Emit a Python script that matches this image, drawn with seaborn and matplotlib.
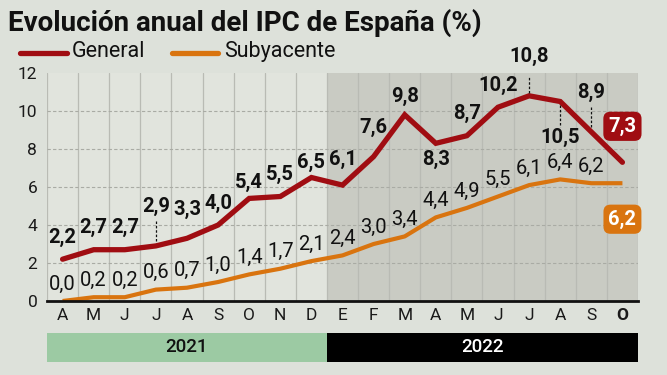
import pandas as pd
import seaborn as sns
import matplotlib.pyplot as plt
from matplotlib.patches import Rectangle

months = ['A', 'M', 'J', 'J', 'A', 'S', 'O', 'N', 'D',
          'E', 'F', 'M', 'A', 'M', 'J', 'J', 'A', 'S', 'O']
general = [2.2, 2.7, 2.7, 2.9, 3.3, 4.0, 5.4, 5.5, 6.5,
           6.1, 7.6, 9.8, 8.3, 8.7, 10.2, 10.8, 10.5, 8.9, 7.3]
subyacente = [0.0, 0.2, 0.2, 0.6, 0.7, 1.0, 1.4, 1.7, 2.1,
              2.4, 3.0, 3.4, 4.4, 4.9, 5.5, 6.1, 6.4, 6.2, 6.2]
years = ['2021', '2022']
year_months = [9, 10]

df = pd.DataFrame({'x': range(len(months)), 'General': general, 'Subyacente': subyacente})

RED = '#a00d12'
ORANGE = '#d9740f'
BG = '#dde1da'

sns.set_style('white')
plt.rcParams['font.family'] = ['Roboto', 'DejaVu Sans']

fig = plt.figure(figsize=(6.67, 3.75), dpi=100, facecolor=BG)
ax = fig.add_axes([0.0705, 0.1973, 0.886, 0.608])
ax.set_facecolor('#e1e4dd')

n = len(months)
# sombreado 2022
ax.axvspan(year_months[0] - 0.5, n - 0.5, color='#c9cbc3', zorder=0, lw=0)
for i in range(n + 1):
    ax.axvline(i - 0.5, color='#b9bbb4', lw=0.9, zorder=1)
for v in [2, 4, 6, 8, 10]:
    ax.axhline(v, color='#a9aba4', lw=0.8, ls=(0, (3, 2)), zorder=1)

sns.lineplot(data=df, x='x', y='General', color=RED, lw=3.8, ax=ax, zorder=4,
             solid_capstyle='round', solid_joinstyle='miter')
sns.lineplot(data=df, x='x', y='Subyacente', color=ORANGE, lw=3.0, ax=ax, zorder=3,
             solid_capstyle='butt')

ax.set_xlim(-0.5, n - 0.5)
ax.set_ylim(0, 12)
ax.set_yticks(range(0, 13, 2))
ax.set_xticks(range(n))
ax.set_xticklabels(months)
ax.get_xticklabels()[-1].set_fontweight('bold')
ax.tick_params(axis='both', length=0, labelsize=12.5, colors='#1a1a1a')
ax.tick_params(axis='x', pad=5)
ax.tick_params(axis='y', pad=7)
ax.set_xlabel('')
ax.set_ylabel('')
for s in ['top', 'right', 'left']:
    ax.spines[s].set_visible(False)
ax.spines['bottom'].set_color('#111111')
ax.spines['bottom'].set_linewidth(2)
ax.spines['bottom'].set_zorder(6)

def fmt(v):
    return f'{v:.1f}'.replace('.', ',')

# etiquetas General (desplazamiento vertical en px)
gen_off = {3: 39, 8: 15, 6: 16, 11: 18, 12: -16, 15: 39, 16: -36, 17: 39, 9: 26, 10: 29, 4: 29}
for i, v in enumerate(general[:-1]):
    dy = gen_off.get(i, 22) * 0.72
    ax.annotate(fmt(v), (i, v), xytext=(0, dy), textcoords='offset points',
                ha='center', va='center', fontsize=14.5, fontweight='bold',
                color='#111111', zorder=7, annotation_clip=False)
# lineas guia punteadas
for i, a, b in [(3, 5, 25), (15, 3, 20), (16, -3, -25), (17, 5, 26)]:
    ax.plot([i, i], [general[i] + a / 19, general[i] + b / 19], color='#111111',
            lw=0.9, ls=(0, (2, 1.5)), zorder=5, clip_on=False)

for i, v in enumerate(subyacente[:-1]):
    ax.annotate(fmt(v), (i, v), xytext=(0, 17 * 0.72), textcoords='offset points',
                ha='center', va='center', fontsize=14.5, color='#111111', zorder=7)

# cajas finales
for v, c, dy in [(general[-1], RED, 36), (subyacente[-1], ORANGE, -36)]:
    ax.annotate(fmt(v), (n - 1, v), xytext=(0, dy * 0.72), textcoords='offset points',
                ha='center', va='center', fontsize=14.5, fontweight='bold', color='white',
                zorder=8, annotation_clip=False,
                bbox=dict(boxstyle='round,pad=0.25,rounding_size=0.35', fc=c, ec='none'))

# titulo y leyenda
fig.text(0.012, 0.94, 'Evolución anual del IPC de España (%)', fontsize=20,
         fontweight='bold', color='#111111', va='center')
fig.add_artist(plt.Line2D([0.03, 0.1], [0.86, 0.86], color=RED, lw=3.8))
fig.text(0.108, 0.862, 'General', fontsize=15.5, color='#111111', va='center')
fig.add_artist(plt.Line2D([0.258, 0.327], [0.86, 0.86], color=ORANGE, lw=3.8))
fig.text(0.336, 0.862, 'Subyacente', fontsize=15.5, color='#111111', va='center')

# barra de años
yax = fig.add_axes([0.0705, 0.035, 0.886, 0.077])
yax.set_xlim(-0.5, n - 0.5)
yax.set_ylim(0, 1)
yax.axis('off')
start = -0.5
for y, m, fc, tc in zip(years, year_months, ['#9ccaa3', '#000000'], ['#111111', 'white']):
    yax.add_patch(Rectangle((start, 0), m, 1, fc=fc, ec='none'))
    yax.text(start + m / 2, 0.5, y, ha='center', va='center', fontsize=13.5,
             fontweight='medium', color=tc)
    start += m

fig.savefig('out.png', dpi=100, facecolor=BG)
